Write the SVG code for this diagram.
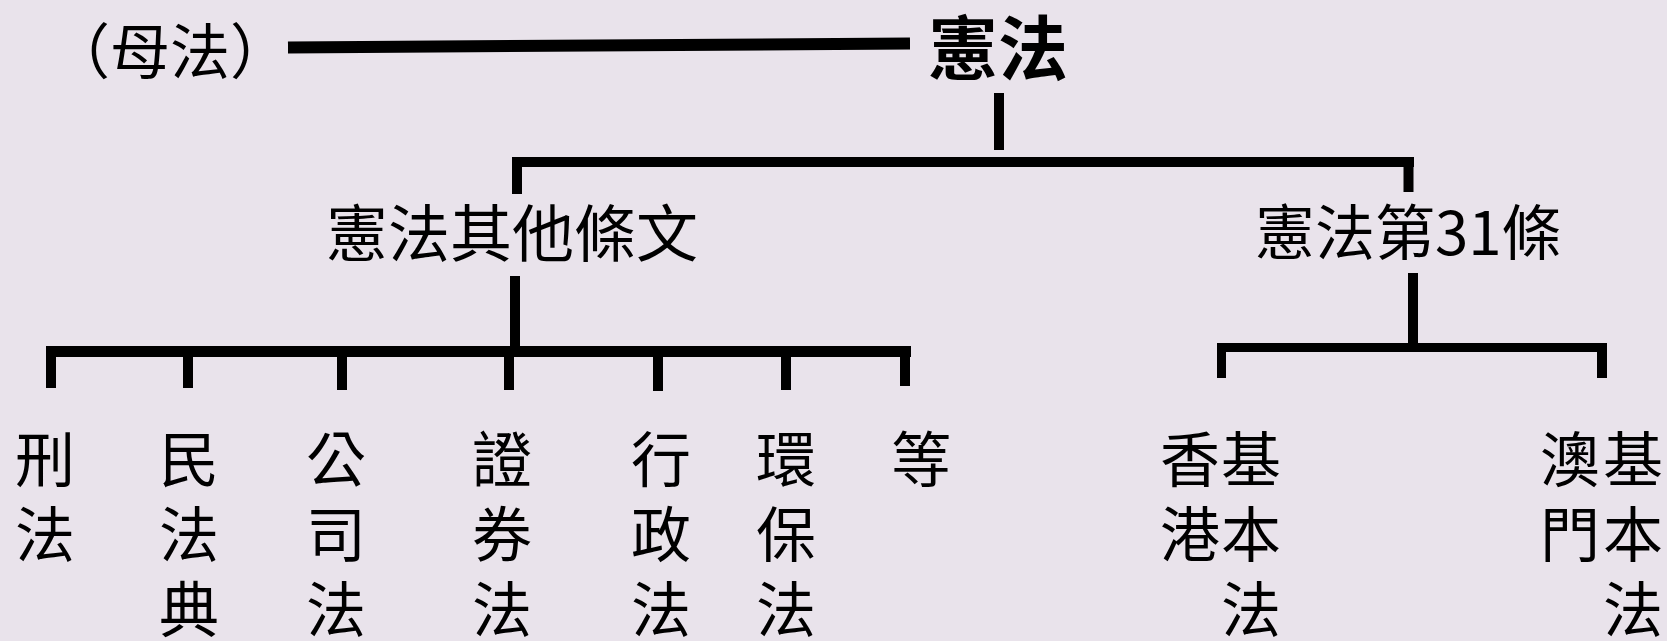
<svg xmlns="http://www.w3.org/2000/svg" width="1667" height="641" viewBox="0 0 1667 641">
<style>
.t{font-family:"Noto Sans CJK TC","Noto Sans CJK SC",sans-serif;fill:#000;font-size:60px}
.b{font-weight:bold;font-size:70px}
.m{font-size:62px}
.c{stroke:#000;fill:none;stroke-linecap:butt}
</style>
<rect width="1667" height="641" fill="#E9E3EB"/>
<g id="connectors" class="c">
<line x1="288" y1="47.5" x2="910" y2="43.5" stroke-width="12"/>
<line x1="999" y1="93" x2="999" y2="150" stroke-width="10"/>
<line x1="512" y1="162" x2="1414" y2="162" stroke-width="10"/>
<line x1="517" y1="157" x2="517" y2="194" stroke-width="10"/>
<line x1="1408.5" y1="157" x2="1408.5" y2="192" stroke-width="10"/>
<line x1="515" y1="276" x2="515" y2="351" stroke-width="10"/>
<line x1="46" y1="351.5" x2="911" y2="351.5" stroke-width="11"/>
<line x1="51" y1="351" x2="51" y2="388" stroke-width="10"/>
<line x1="188" y1="351" x2="188" y2="388" stroke-width="10"/>
<line x1="342" y1="351" x2="342" y2="390" stroke-width="10"/>
<line x1="509" y1="351" x2="509" y2="390" stroke-width="10"/>
<line x1="658" y1="351" x2="658" y2="391" stroke-width="10"/>
<line x1="786" y1="351" x2="786" y2="390" stroke-width="10"/>
<line x1="905" y1="351" x2="905" y2="386" stroke-width="10"/>
<line x1="1413" y1="273" x2="1413" y2="348" stroke-width="10"/>
<line x1="1217" y1="347.5" x2="1607" y2="347.5" stroke-width="9"/>
<line x1="1221.5" y1="347" x2="1221.5" y2="378" stroke-width="9"/>
<line x1="1602" y1="347" x2="1602" y2="378" stroke-width="10"/>
</g>
<g id="mother"><text class="t" x="50" y="74">（母法）</text></g>
<g id="constitution"><text class="t b" x="928" y="75">憲法</text></g>
<g id="other-articles"><text class="t m" x="326" y="257">憲法其他條文</text></g>
<g id="article31"><text class="t" x="1255" y="255" font-size="61">憲法第31條</text></g>
<g id="criminal"><text class="t"><tspan x="15" y="482">刑</tspan><tspan x="15" y="557">法</tspan></text></g>
<g id="civil"><text class="t"><tspan x="159" y="482">民</tspan><tspan x="159" y="557">法</tspan><tspan x="159" y="632">典</tspan></text></g>
<g id="company"><text class="t"><tspan x="306" y="482">公</tspan><tspan x="306" y="557">司</tspan><tspan x="306" y="632">法</tspan></text></g>
<g id="securities"><text class="t"><tspan x="472" y="482">證</tspan><tspan x="472" y="557">券</tspan><tspan x="472" y="632">法</tspan></text></g>
<g id="administrative"><text class="t"><tspan x="631" y="482">行</tspan><tspan x="631" y="557">政</tspan><tspan x="631" y="632">法</tspan></text></g>
<g id="environmental"><text class="t"><tspan x="756" y="482">環</tspan><tspan x="756" y="557">保</tspan><tspan x="756" y="632">法</tspan></text></g>
<g id="etc"><text class="t" x="891" y="482">等</text></g>
<g id="hk-basic-law"><text class="t"><tspan x="1160" y="482">香</tspan><tspan x="1160" y="557">港</tspan><tspan x="1221" y="482">基</tspan><tspan x="1221" y="557">本</tspan><tspan x="1221" y="632">法</tspan></text></g>
<g id="macau-basic-law"><text class="t"><tspan x="1540" y="482">澳</tspan><tspan x="1540" y="557">門</tspan><tspan x="1603" y="482">基</tspan><tspan x="1603" y="557">本</tspan><tspan x="1603" y="632">法</tspan></text></g>
</svg>
